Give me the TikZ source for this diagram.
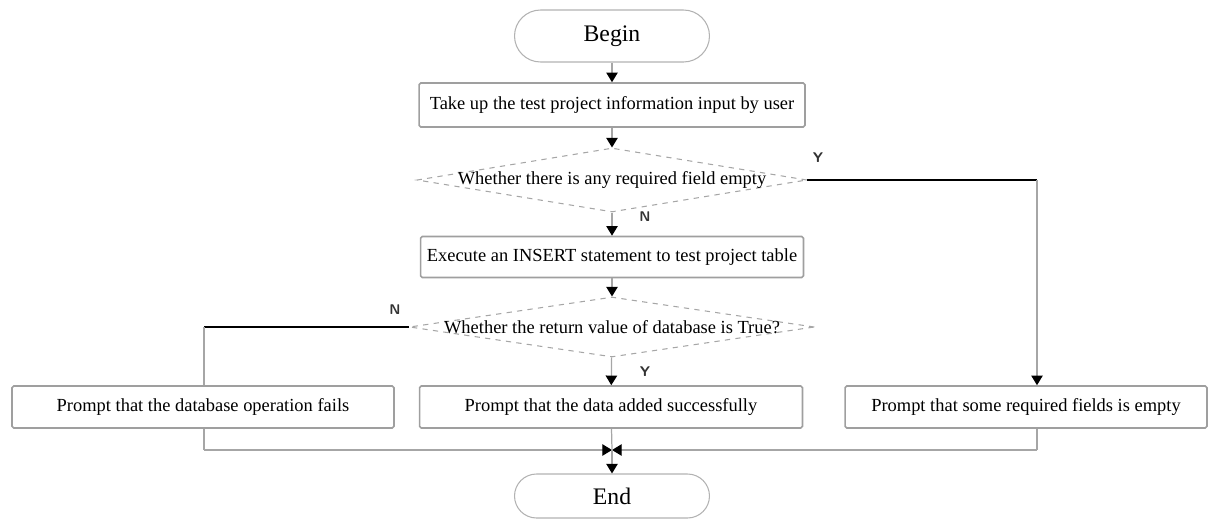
\documentclass[tikz,border=0pt]{standalone}
\usepackage{fontspec}
\setmainfont{Liberation Serif}
\usetikzlibrary{shapes.geometric,arrows.meta}
\begin{document}
\begin{tikzpicture}[x=0.02cm,y=-0.02cm,
 box/.style={draw=gray!75, line width=0.9pt, rounded corners=1pt, minimum height=0.84cm, font=\fontsize{10.5}{12}\selectfont, inner sep=0pt},
 term/.style={draw=gray!60, line width=0.6pt, minimum width=3.9cm, font=\fontsize{13.5}{15}\selectfont},
 dia/.style={draw=gray!70, dashed, line width=0.6pt, shape=diamond, inner sep=0pt},
 dtext/.style={font=\fontsize{10.5}{12}\selectfont},
 arr/.style={-{Triangle[length=5.5pt,width=6.5pt,color=black,fill=black]}, draw=gray!70, line width=0.7pt},
 gl/.style={draw=gray!70, line width=0.7pt},
 bl/.style={draw=black, line width=1.3pt},
 lab/.style={font=\sffamily\bfseries\fontsize{8}{9}\selectfont, text=black!80}
]
\useasboundingbox (0,0) rectangle (1220,521);

\node[term, minimum height=1.04cm, rounded corners=0.52cm] (begin) at (612,36) {Begin};
\node[box, minimum width=7.72cm, minimum height=0.88cm] (b1) at (612,105) {Take up the test project information input by user};
\node[dia, minimum width=7.8cm, minimum height=1.28cm] (d1) at (612,180) {};
\node[dtext] (d1t) at (d1) {Whether there is any required field empty};
\node[box, minimum width=7.66cm, minimum height=0.82cm] (b2) at (612,257) {Execute an INSERT statement to test project table};
\node[dia, minimum width=8.1cm, minimum height=1.2cm] (d2) at (612,327) {};
\node[dtext] (d2t) at (d2) {Whether the return value of database is True?};
\node[box, minimum width=7.64cm] (lb) at (203,407) {Prompt that the database operation fails};
\node[box, minimum width=7.66cm] (mb) at (611,407) {Prompt that the data added successfully};
\node[box, minimum width=7.24cm] (rb) at (1026,407) {Prompt that some required fields is empty};
\node[term, minimum height=0.88cm, rounded corners=0.44cm] (end) at (612,496) {End};

\coordinate (c1) at (1037,180);
\coordinate (c2) at (204,327);
\coordinate (m) at (612,450);

\draw[arr] (begin) -- (b1);
\draw[arr] (b1) -- (d1);
\draw[arr] (d1) -- (b2);
\draw[arr] (b2) -- (d2);
\draw[arr] (d2) -- (mb);
\draw[bl] (d1.east) -- (c1);
\draw[arr] (c1) -- (c1 |- rb.north);
\draw[bl] (d2.west) -- (c2);
\draw[gl] (c2) -- (c2 |- lb.north);

\draw[gl] (lb.south -| c2) -- (c2 |- m);
\draw[arr] (c2 |- m) -- (m);
\draw[gl] (rb.south -| c1) -- (c1 |- m);
\draw[arr] (c1 |- m) -- (m);
\draw[gl] (mb) -- (m);
\draw[arr] (m) -- (end);

\node[lab] (y1) at (818,158) {Y};
\node[lab] (n1) at (645,217) {N};
\node[lab] (n2) at (395,310) {N};
\node[lab] (y2) at (645,372) {Y};
\end{tikzpicture}
\end{document}
